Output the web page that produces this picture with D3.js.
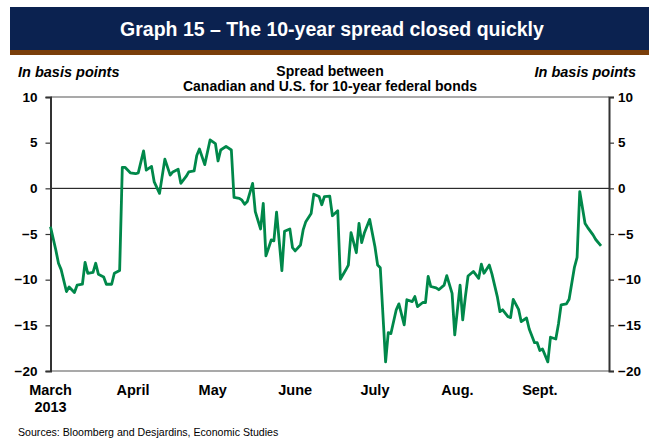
<!DOCTYPE html>
<html>
<head>
<meta charset="utf-8">
<title>Graph 15 - The 10-year spread closed quickly</title>
<script src="https://d3js.org/d3.v7.min.js"></script>
<style>
  body { margin: 0; background: #fff; }
  text { font-family: Arial, "Liberation Sans", sans-serif; }
</style>
</head>
<body>
<script>

var dates = [
  "2013-03-01","2013-03-03","2013-03-04","2013-03-05","2013-03-07","2013-03-08","2013-03-10","2013-03-11",
  "2013-03-13","2013-03-14","2013-03-15","2013-03-17","2013-03-18","2013-03-19","2013-03-21","2013-03-22",
  "2013-03-24","2013-03-25","2013-03-27","2013-03-28","2013-03-29","2013-03-31","2013-04-02","2013-04-03",
  "2013-04-05","2013-04-06","2013-04-08","2013-04-09","2013-04-11","2013-04-13","2013-04-15","2013-04-16",
  "2013-04-18","2013-04-19","2013-04-21","2013-04-22","2013-04-24","2013-04-25","2013-04-26","2013-04-28",
  "2013-04-30","2013-05-02","2013-05-03","2013-05-04","2013-05-06","2013-05-08","2013-05-09","2013-05-11",
  "2013-05-12","2013-05-13","2013-05-14","2013-05-16","2013-05-17","2013-05-19","2013-05-20","2013-05-21",
  "2013-05-23","2013-05-24","2013-05-25","2013-05-27","2013-05-28","2013-05-30","2013-05-31","2013-06-01",
  "2013-06-03","2013-06-04","2013-06-05","2013-06-07","2013-06-08","2013-06-10","2013-06-11","2013-06-12",
  "2013-06-14","2013-06-15","2013-06-17","2013-06-18","2013-06-20","2013-06-21","2013-06-22","2013-06-24",
  "2013-06-25","2013-06-26","2013-06-27","2013-06-29","2013-07-01","2013-07-02","2013-07-03","2013-07-05",
  "2013-07-06","2013-07-07","2013-07-09","2013-07-10","2013-07-12","2013-07-13","2013-07-15","2013-07-16",
  "2013-07-17","2013-07-19","2013-07-20","2013-07-21","2013-07-22","2013-07-24","2013-07-25","2013-07-27",
  "2013-07-28","2013-07-30","2013-07-31","2013-08-02","2013-08-03","2013-08-04","2013-08-05","2013-08-07",
  "2013-08-09","2013-08-10","2013-08-11","2013-08-13","2013-08-14","2013-08-16","2013-08-17","2013-08-18",
  "2013-08-20","2013-08-21","2013-08-22","2013-08-24","2013-08-25","2013-08-27","2013-08-28","2013-08-30",
  "2013-08-31","2013-09-01","2013-09-02","2013-09-04","2013-09-05","2013-09-07","2013-09-08","2013-09-09",
  "2013-09-11","2013-09-12","2013-09-14","2013-09-15","2013-09-16","2013-09-18","2013-09-19","2013-09-21",
  "2013-09-22","2013-09-24"
];

var spread = [
  -4.2, -6.75, -8.2, -8.9, -11.3, -10.8, -11.4, -10.6,
  -10.5, -8.1, -9.3, -9.2, -8.2, -9.4, -9.7, -10.5,
  -10.5, -9.3, -9.0, 2.3, 2.3, 1.7, 1.6, 1.7,
  4.1, 2.0, 2.4, 0.7, -0.55, 3.2, 1.45, 1.8,
  2.1, 0.55, 1.3, 1.8, 1.9, 3.6, 4.3, 2.6,
  5.3, 4.9, 3.0, 4.2, 4.6, 4.2, -1.0, -1.1,
  -1.3, -1.75, -1.45, 0.55, -2.55, -4.45, -1.65, -7.4,
  -5.65, -5.75, -2.6, -9.0, -4.7, -4.45, -6.5, -6.85,
  -6.2, -4.55, -3.65, -2.75, -0.65, -0.9, -1.8, -0.9,
  -0.85, -3.0, -2.45, -9.95, -8.95, -8.4, -4.85, -7.05,
  -3.85, -5.95, -4.9, -3.4, -6.4, -8.4, -8.7, -19.0,
  -15.8, -15.9, -13.3, -12.65, -14.95, -12.2, -12.4, -11.85,
  -12.95, -12.5, -12.5, -9.65, -10.75, -10.9, -11.1, -10.6,
  -9.55, -11.5, -16.05, -10.6, -14.4, -11.85, -9.6, -9.1,
  -9.85, -8.3, -9.3, -8.4, -9.4, -11.85, -13.5, -13.3,
  -14.05, -14.15, -12.15, -13.25, -14.6, -14.2, -15.4, -16.9,
  -16.9, -17.75, -17.6, -19.0, -16.3, -16.5, -14.85, -12.75,
  -12.65, -12.15, -8.65, -7.55, -0.35, -3.85, -4.3, -5.1,
  -5.6, -6.3
];

var yTicks = [10, 5, 0, -5, -10, -15, -20];
var monthNames = ["March", "April", "May", "June", "July", "Aug.", "Sept."];
var monthStarts = ["2013-03-01", "2013-04-01", "2013-05-01", "2013-06-01", "2013-07-01", "2013-08-01", "2013-09-01"];

drawChart();

function drawChart(){

  var w = 649;
  var h = 440;
  var parse = d3.timeParse("%Y-%m-%d");

  var svg = d3.select("body")
              .append("svg")
              .attr("width", w)
              .attr("height", h);

  // Title banner
  svg.append("rect")
     .attr("x", 10).attr("y", 7)
     .attr("width", w - 10).attr("height", 43)
     .attr("fill", "#0b2250");
  svg.append("rect")
     .attr("x", 10).attr("y", 50)
     .attr("width", w - 10).attr("height", 5)
     .attr("fill", "#7a3e0a");
  svg.append("text")
     .attr("x", 332).attr("y", 36)
     .attr("text-anchor", "middle")
     .attr("fill", "#fff")
     .attr("font-size", "19.5px")
     .attr("font-weight", "bold")
     .text("Graph 15 \u2013 The 10-year spread closed quickly");

  // Plot area
  var margin = {top: 97, right: 40, bottom: 69, left: 50.5};
  var graphWidth = w - margin.left - margin.right;
  var graphHeight = h - margin.top - margin.bottom;

  var graph = svg.append("g")
                 .attr("transform", `translate(${margin.left}, ${margin.top})`);

  var xScale = d3.scaleTime()
                 .domain([parse("2013-03-01"), parse("2013-09-27")])
                 .range([0, graphWidth]);

  var yScale = d3.scaleLinear()
                 .domain([-20, 10])
                 .range([graphHeight, 0]);

  // top and bottom frame
  graph.append("line")
       .attr("x1", 0).attr("x2", graphWidth)
       .attr("y1", 0).attr("y2", 0)
       .attr("stroke", "#8c8c8c").attr("stroke-width", 1.5);
  graph.append("line")
       .attr("x1", 0).attr("x2", graphWidth)
       .attr("y1", graphHeight).attr("y2", graphHeight)
       .attr("stroke", "#8c8c8c").attr("stroke-width", 1.5);

  // zero line
  graph.append("line")
       .attr("x1", 0).attr("x2", graphWidth)
       .attr("y1", yScale(0)).attr("y2", yScale(0))
       .attr("stroke", "#000").attr("stroke-width", 1);

  // y axes on both sides
  var yLeft = d3.axisLeft(yScale).tickValues(yTicks).tickSize(5).tickPadding(8);
  var yRight = d3.axisRight(yScale).tickValues(yTicks).tickSize(5).tickPadding(4);

  var leftAxis = graph.append("g").call(yLeft);
  var rightAxis = graph.append("g")
                       .attr("transform", `translate(${graphWidth}, 0)`)
                       .call(yRight);

  [leftAxis, rightAxis].forEach(function(ax){
    ax.select(".domain").attr("stroke", "#333").attr("stroke-width", 2);
    ax.selectAll(".tick line").attr("stroke", "#333").attr("stroke-width", 1.2);
    ax.selectAll("text")
      .attr("fill", "#000")
      .attr("font-size", "13.5px")
      .attr("font-weight", "bold")
      .attr("font-family", "Arial, 'Liberation Sans', sans-serif");
  });

  // the spread line
  var series = dates.map(function(d, i){ return {date: parse(d), value: spread[i]}; });

  var line = d3.line()
               .x(d => xScale(d.date))
               .y(d => yScale(d.value));

  graph.append("path")
       .datum(series)
       .attr("d", line)
       .attr("fill", "none")
       .attr("stroke", "#00884a")
       .attr("stroke-width", 2.8)
       .attr("stroke-linejoin", "round");

  // month labels
  graph.selectAll(".month")
       .data(monthNames)
       .enter()
       .append("text")
       .attr("class", "month")
       .attr("x", (d, i) => xScale(parse(monthStarts[i])))
       .attr("y", graphHeight + 24)
       .attr("text-anchor", "middle")
       .attr("font-size", "14.5px")
       .attr("font-weight", "bold")
       .text(d => d);

  graph.append("text")
       .attr("x", xScale(parse(monthStarts[0])))
       .attr("y", graphHeight + 41)
       .attr("text-anchor", "middle")
       .attr("font-size", "14.5px")
       .attr("font-weight", "bold")
       .text("2013");

  // unit labels
  svg.append("text")
     .attr("x", 18).attr("y", 77)
     .attr("font-size", "14.5px")
     .attr("font-weight", "bold")
     .attr("font-style", "italic")
     .text("In basis points");

  svg.append("text")
     .attr("x", 636).attr("y", 77)
     .attr("text-anchor", "end")
     .attr("font-size", "14.5px")
     .attr("font-weight", "bold")
     .attr("font-style", "italic")
     .text("In basis points");

  // chart subtitle
  svg.append("text")
     .attr("x", 330).attr("y", 76)
     .attr("text-anchor", "middle")
     .attr("font-size", "14px")
     .attr("font-weight", "bold")
     .text("Spread between");
  svg.append("text")
     .attr("x", 330).attr("y", 91)
     .attr("text-anchor", "middle")
     .attr("font-size", "14px")
     .attr("font-weight", "bold")
     .text("Canadian and U.S. for 10-year federal bonds");

  // source
  svg.append("text")
     .attr("x", 18).attr("y", 436)
     .attr("font-size", "10.6px")
     .text("Sources: Bloomberg and Desjardins, Economic Studies");

};

</script>
</body>
</html>
